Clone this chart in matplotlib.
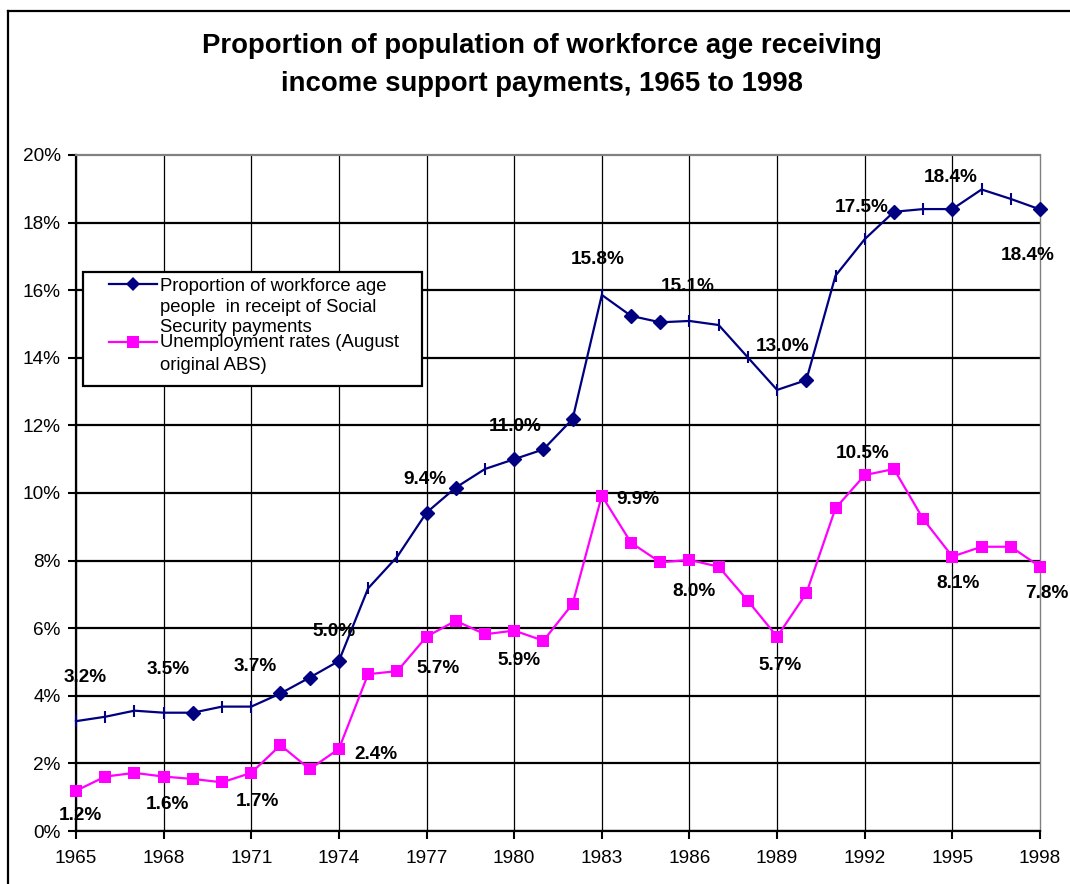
import numpy as np
import matplotlib
matplotlib.use("Agg")
import matplotlib.pyplot as plt
from matplotlib.lines import Line2D
from matplotlib.patches import Rectangle

# ---------------------------------------------------------------
# DATA
years = list(range(1965, 1999))

# proportion of workforce age people receiving social security payments (%)
welfare = [3.25, 3.38, 3.56, 3.50, 3.50, 3.68, 3.68, 4.07, 4.54, 5.03,
           7.18, 8.12, 9.42, 10.16, 10.71, 11.00, 11.29, 12.19, 15.86, 15.24,
           15.05, 15.09, 14.97, 14.01, 13.05, 13.34, 16.43, 17.51, 18.32, 18.40,
           18.40, 18.98, 18.70, 18.39]

# unemployment rates, August original ABS (%)
unemp = [1.19, 1.61, 1.72, 1.61, 1.54, 1.44, 1.72, 2.54, 1.83, 2.43,
         4.64, 4.73, 5.75, 6.22, 5.82, 5.93, 5.63, 6.72, 9.92, 8.53,
         7.95, 8.02, 7.82, 6.81, 5.75, 7.03, 9.55, 10.53, 10.71, 9.23,
         8.12, 8.41, 8.41, 7.82]

welfare_label_years = [1965, 1968, 1971, 1974, 1977, 1980, 1983, 1986, 1989, 1992, 1995, 1998]
welfare_label_text = ['3.2%', '3.5%', '3.7%', '5.0%', '9.4%', '11.0%',
                      '15.8%', '15.1%', '13.0%', '17.5%', '18.4%', '18.4%']
unemp_label_years = [1965, 1968, 1971, 1974, 1977, 1980, 1983, 1986, 1989, 1992, 1995, 1998]
unemp_label_text = ['1.2%', '1.6%', '1.7%', '2.4%', '5.7%', '5.9%',
                    '9.9%', '8.0%', '5.7%', '10.5%', '8.1%', '7.8%']

x_ticks = list(range(1965, 1999, 3))
y_ticks = list(range(0, 21, 2))

title = 'Proportion of population of workforce age receiving\nincome support payments, 1965 to 1998'
legend_lines_1 = ['Proportion of workforce age', 'people  in receipt of Social', 'Security payments']
legend_lines_2 = ['Unemployment rates (August', 'original ABS)']

# ---------------------------------------------------------------
# STYLE (label offsets in pixels, marker type per point as drawn in the original)
welfare_label_off = [(9, 46), (5, 46), (4, 43), (-5, 32), (-2, 36), (1, 35),
                     (-4, 38), (-2, 37), (6, 46), (-3, 34), (-2, 34), (-12, -44)]
unemp_label_off = [(4, -22), (4, -25), (6, -26), (37, -3), (12, -29), (5, -27),
                   (36, -1), (5, -29), (3, -26), (-2, 24), (6, -24), (7, -24)]
welfare_marks = 'TTTTDTTDDDTTDDTDDDTDDTTTTDTTDTDTTD'   # D = diamond, T = tick

NAVY = '#000080'
PINK = '#FF00FF'
W, H = 1070, 884
FS = 13.7

plt.rcParams['font.family'] = ['Liberation Sans', 'DejaVu Sans']

fig = plt.figure(figsize=(W / 100, H / 100), dpi=100)
ax = fig.add_axes([76 / W, 1 - 831 / H, (1040 - 76) / W, (831 - 155) / H])


def fpx(x, y):
    # figure pixel coords (top-left origin) -> figure fraction
    return x / W, 1 - y / H


# ---------------------------------------------------------------
# SERIES
ax.plot(years, welfare, color=NAVY, lw=1.6, clip_on=False, zorder=4)
yrs = np.array(years)
wel = np.array(welfare)
dmask = np.array([m == 'D' for m in welfare_marks])
ax.plot(yrs[dmask], wel[dmask], ls='none', marker='D', ms=7, color=NAVY,
        clip_on=False, zorder=5)
ax.plot(yrs[~dmask], wel[~dmask], ls='none', marker='|', ms=8, mew=1.5, color=NAVY,
        clip_on=False, zorder=5)

ax.plot(years, unemp, color=PINK, lw=1.6, marker='s', ms=8.5, mew=0,
        clip_on=False, zorder=4)

# data labels
lab_font = dict(fontsize=FS, fontweight='bold', ha='center', va='baseline',
                textcoords='offset pixels', annotation_clip=False, zorder=6)
for yr, txt, (dx, dy) in zip(welfare_label_years, welfare_label_text, welfare_label_off):
    ax.annotate(txt, (yr, welfare[years.index(yr)]), xytext=(dx, dy - 7), **lab_font)
for yr, txt, (dx, dy) in zip(unemp_label_years, unemp_label_text, unemp_label_off):
    ax.annotate(txt, (yr, unemp[years.index(yr)]), xytext=(dx, dy - 7), **lab_font)

# ---------------------------------------------------------------
# AXES
ax.set_xlim(1965, 1998)
ax.set_ylim(0, 20)
ax.set_xticks(x_ticks)
ax.set_xticklabels([str(t) for t in x_ticks])
ax.set_yticks(y_ticks)
ax.set_yticklabels([f'{t}%' for t in y_ticks])
ax.tick_params(axis='both', labelsize=FS, color='black', width=1.5, length=6,
               direction='out')
ax.tick_params(axis='y', pad=5)
ax.tick_params(axis='x', pad=8)

ax.yaxis.grid(True, color='black', lw=1.6)
ax.xaxis.grid(True, color='black', lw=0.9)
ax.get_ygridlines()[-1].set_visible(False)
ax.get_xgridlines()[-1].set_visible(False)
ax.set_axisbelow(True)

for side in ['left', 'bottom']:
    ax.spines[side].set_color('black')
    ax.spines[side].set_linewidth(1.6)
ax.spines['top'].set_color('#808080')
ax.spines['top'].set_linewidth(1.6)
ax.spines['right'].set_color('#808080')
ax.spines['right'].set_linewidth(1.0)

# ---------------------------------------------------------------
# TITLE
for line, ypx in zip(title.split('\n'), [53, 91]):
    tx, ty = fpx(542, ypx)
    fig.text(tx, ty, line, ha='center', va='baseline', fontsize=19.8,
             fontweight='bold')

# ---------------------------------------------------------------
# LEGEND (drawn by hand so the key sits on the first text line)
x0, y0 = fpx(83, 386)
x1, y1 = fpx(422, 272)
fig.patches.append(Rectangle((x0, y0), x1 - x0, y1 - y0, transform=fig.transFigure,
                             facecolor='white', edgecolor='black', lw=1.6, zorder=7))
for ypx, col, mk, ms in [(284, NAVY, 'D', 7), (342, PINK, 's', 8.5)]:
    xa, ya = fpx(109, ypx)
    xb, _ = fpx(157, ypx)
    fig.add_artist(Line2D([xa, xb], [ya, ya], color=col, lw=1.6,
                          transform=fig.transFigure, zorder=8))
    xm, _ = fpx(133, ypx)
    fig.add_artist(Line2D([xm], [ya], color=col, marker=mk, ms=ms, mew=0,
                          transform=fig.transFigure, zorder=8))
for txt, ypx in zip(legend_lines_1 + legend_lines_2, [291, 312, 332, 347, 370]):
    lx, ly = fpx(160, ypx)
    fig.text(lx, ly, txt, fontsize=13.3, va='baseline', ha='left', zorder=9)

# outer frame of the chart object
fa, fb = fpx(8, 11)
fig.add_artist(Line2D([fa, 1.0], [fb, fb], color='black', lw=1.6,
                      transform=fig.transFigure))
fig.add_artist(Line2D([fa, fa], [fb, 0.0], color='black', lw=1.6,
                      transform=fig.transFigure))

fig.savefig('out.png', dpi=100)
